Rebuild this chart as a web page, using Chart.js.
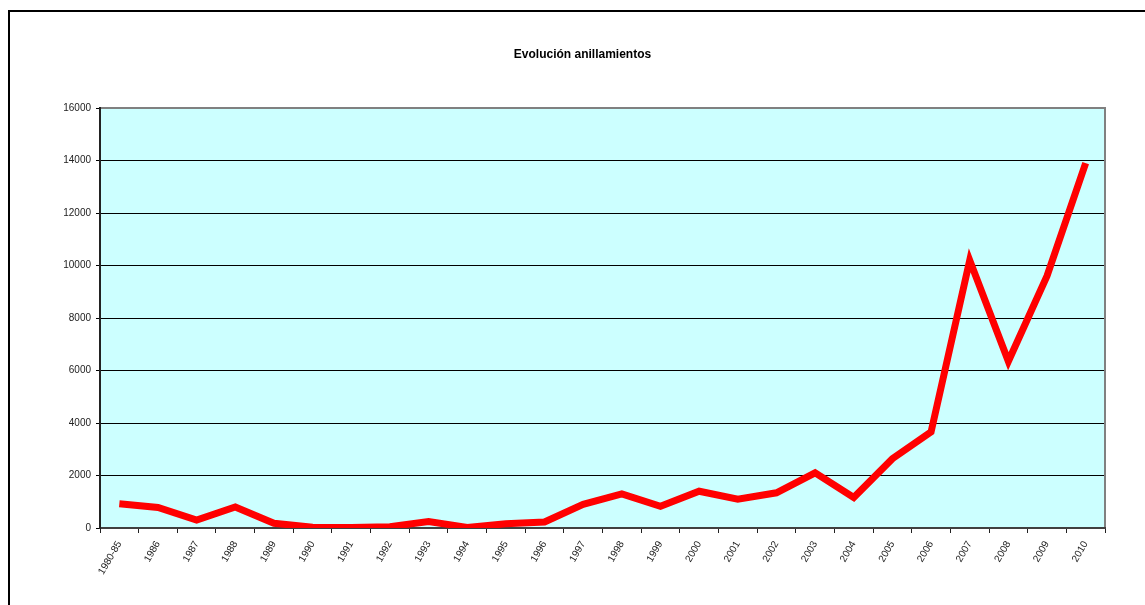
<!DOCTYPE html>
<html>
<head>
<meta charset="utf-8">
<script src="https://cdn.jsdelivr.net/npm/chart.js@4"></script>
<style>
	body { margin: 0; background: #fff; overflow: hidden; }
	#frame {
		position: absolute; left: 8px; top: 10px;
		width: 1300px; height: 800px;
		border: 2px solid #000;
	}
	#wrap { position: absolute; left: 0; top: 0; width: 1145px; height: 605px; }
</style>
</head>
<body>
<div id="frame"></div>
<div id="wrap"><canvas id="myChart"></canvas></div>
<script>
const years = ["1980-85", "1986", "1987", "1988", "1989", "1990", "1991", "1992", "1993", "1994",
	"1995", "1996", "1997", "1998", "1999", "2000", "2001", "2002", "2003", "2004",
	"2005", "2006", "2007", "2008", "2009", "2010"];
const anillamientos = [920, 780, 300, 800, 180, 30, 20, 50, 250, 20,
	160, 230, 900, 1300, 830, 1400, 1100, 1340, 2100, 1160,
	2640, 3660, 10200, 6350, 9600, 13900];
const yTicks = [0, 2000, 4000, 6000, 8000, 10000, 12000, 14000, 16000];

// fondo cian del area de trazado
const plotArea = {
	id: 'plotArea',
	beforeDraw(chart) {
		const { ctx, chartArea: a } = chart;
		ctx.save();
		ctx.fillStyle = '#ccffff';
		ctx.fillRect(a.left, a.top, a.width, a.height);
		ctx.restore();
	},
	// borde gris arriba y a la derecha
	afterDraw(chart) {
		const { ctx, chartArea: a } = chart;
		ctx.save();
		ctx.strokeStyle = '#808080';
		ctx.lineWidth = 2;
		ctx.beginPath();
		ctx.moveTo(a.left + 1, a.top);
		ctx.lineTo(a.right, a.top);
		ctx.lineTo(a.right, a.bottom - 1);
		ctx.stroke();
		ctx.restore();
	}
};

const ctx = document.getElementById('myChart').getContext('2d');
new Chart(ctx, {
	type: 'line',
	data: {
		labels: years,
		datasets: [{
			data: anillamientos,
			borderColor: '#ff0000',
			borderWidth: 7,
			tension: 0,
			pointRadius: 0,
			borderJoinStyle: 'miter'
		}]
	},
	plugins: [plotArea],
	options: {
		animation: false,
		responsive: true,
		maintainAspectRatio: false,
		events: [],
		layout: {
			padding: { left: 60, right: 40, top: 0, bottom: 0 }
		},
		plugins: {
			legend: { display: false },
			tooltip: { enabled: false },
			title: {
				display: true,
				text: 'Evolución anillamientos',
				color: '#000',
				font: { family: "'Liberation Sans', Arial, sans-serif", size: 12, weight: 'bold' },
				padding: { top: 47, bottom: 46.6 }
			}
		},
		scales: {
			x: {
				offset: true,
				grid: {
					offset: true,
					drawOnChartArea: false,
					color: '#222',
					tickLength: 5
				},
				border: { color: '#404040', width: 2 },
				ticks: {
					minRotation: 60,
					maxRotation: 60,
					autoSkip: false,
					color: '#222',
					padding: 6,
					font: { family: "'Liberation Sans', Arial, sans-serif", size: 10 }
				},
				afterFit(scale) { scale.height = 77; }
			},
			y: {
				min: 0,
				max: 16000,
				afterBuildTicks(scale) {
					scale.ticks = yTicks.map(v => ({ value: v }));
				},
				grid: {
					color: '#000',
					lineWidth: 1,
					tickLength: 4
				},
				border: { color: '#222', width: 2 },
				ticks: {
					padding: 5,
					color: '#222',
					font: { family: "'Liberation Sans', Arial, sans-serif", size: 10 },
					callback: function(value) {
						return String(value);
					}
				},
				afterFit(scale) { scale.width = 40; }
			}
		}
	}
});
</script>
</body>
</html>
